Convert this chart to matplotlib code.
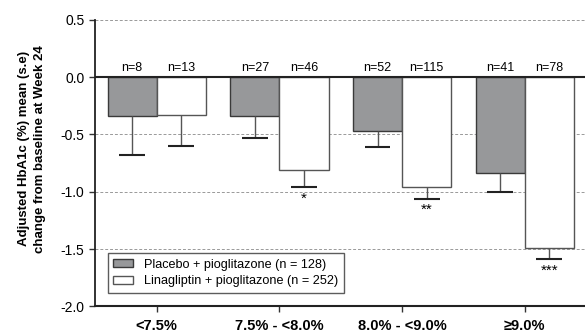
import numpy as np
import matplotlib
matplotlib.use('Agg')
import matplotlib.pyplot as plt

plt.rcParams['font.family'] = ['Liberation Sans', 'DejaVu Sans']

# datos
grupos = ['<7.5%', '7.5% - <8.0%', '8.0% - <9.0%', '\u22659.0%']
placebo = [-0.34, -0.34, -0.47, -0.84]
placebo_se = [0.34, 0.19, 0.14, 0.16]
lina = [-0.33, -0.81, -0.96, -1.49]
lina_se = [0.27, 0.15, 0.10, 0.10]
n_placebo = ['n=8', 'n=27', 'n=52', 'n=41']
n_lina = ['n=13', 'n=46', 'n=115', 'n=78']
estrellas = ['', '*', '**', '***']

fig = plt.figure(figsize=(5.85, 3.33), dpi=100)
ax = fig.add_axes([0.162, 0.0796, 0.84, 0.8614])

x = np.arange(len(grupos))
w = 0.4
cap = 0.105

for y in [0.5, -0.5, -1.0, -1.5]:
    ax.axhline(y, color='#999999', lw=0.7, ls=(0, (3, 2)), zorder=0)

ax.bar(x - w / 2, placebo, w, color='#97989a', edgecolor='#3a3a3a', lw=1.0, zorder=2,
       label='Placebo + pioglitazone (n = 128)')
ax.bar(x + w / 2, lina, w, color='white', edgecolor='#555555', lw=1.0, zorder=2,
       label='Linagliptin + pioglitazone (n = 252)')

# barras de error solo hacia abajo
for xs, vals, se in [(x - w / 2, placebo, placebo_se), (x + w / 2, lina, lina_se)]:
    low = np.array(vals) - np.array(se)
    ax.vlines(xs, low, vals, color='#555555', lw=1.0, zorder=3)
    ax.hlines(low, xs - cap, xs + cap, color='#222222', lw=1.5, zorder=3)

ax.axhline(0, color='#222222', lw=1.5, zorder=4)

for i in range(len(grupos)):
    ax.text(x[i] - w / 2, 0.03, n_placebo[i], ha='center', va='bottom', fontsize=9)
    ax.text(x[i] + w / 2, 0.03, n_lina[i], ha='center', va='bottom', fontsize=9)
    if estrellas[i]:
        ax.text(x[i] + w / 2, lina[i] - lina_se[i] - 0.04, estrellas[i],
                ha='center', va='top', fontsize=11)

ax.set_xlim(-0.505, 3.5)
ax.set_ylim(-2.0, 0.5)
ax.set_yticks([0.5, 0.0, -0.5, -1.0, -1.5, -2.0])
ax.set_yticklabels(['0.5', '0.0', '-0.5', '-1.0', '-1.5', '-2.0'], fontsize=10)
ax.set_xticks(x)
ax.set_xticklabels(grupos, fontsize=10.5, fontweight='bold')
ax.tick_params(axis='both', direction='out', length=4, width=1.0, color='#333333')
ax.tick_params(axis='x', pad=5)

ax.spines['top'].set_visible(False)
ax.spines['right'].set_visible(False)
ax.spines['left'].set_linewidth(1.3)
ax.spines['bottom'].set_linewidth(1.5)
ax.spines['left'].set_color('#222222')
ax.spines['bottom'].set_color('#222222')

ax.set_ylabel('Adjusted HbA1c (%) mean (s.e)\nchange from baseline at Week 24',
              fontsize=9.5, fontweight='bold', linespacing=1.45)
ax.yaxis.set_label_coords(-0.100, 0.55)

leg = ax.legend(loc='lower left', bbox_to_anchor=(0.026, 0.047), borderaxespad=0,
                fontsize=9.1, frameon=True, fancybox=False, edgecolor='#333333',
                handlelength=1.6, handleheight=0.6, borderpad=0.45, labelspacing=0.35,
                handletextpad=0.8)
leg.get_frame().set_linewidth(1.0)

fig.savefig('out.png', dpi=100)
